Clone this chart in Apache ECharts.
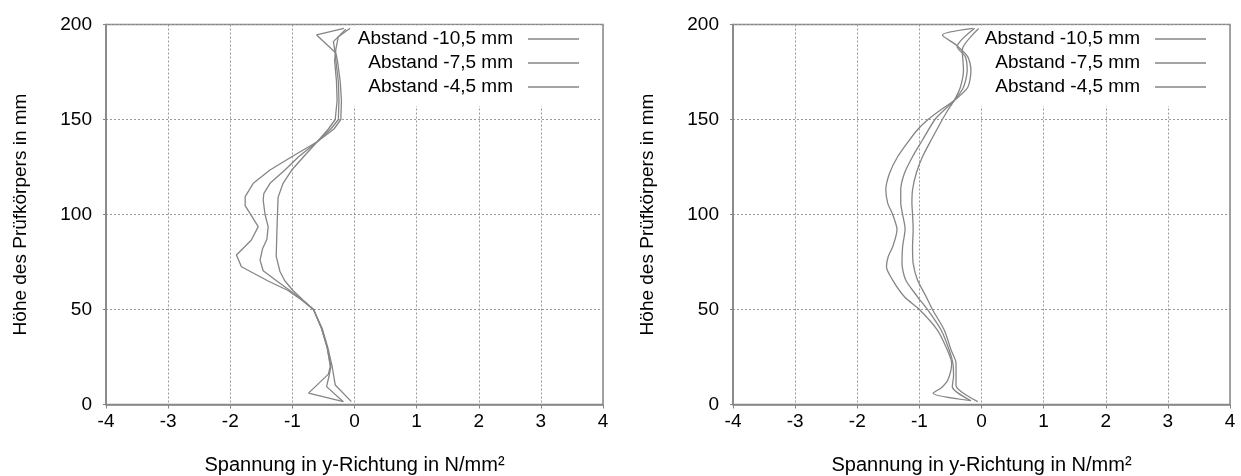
<!DOCTYPE html>
<html><head><meta charset="utf-8">
<script src="https://cdn.jsdelivr.net/npm/echarts@6/dist/echarts.min.js"></script>
<style>html,body{margin:0;padding:0;background:#fff}#c{width:1241px;height:476px}</style>
</head><body><div id="c"></div>
<script>
// ---- data (x = stress in N/mm², y = height in mm) ----
const seriesNames = ['Abstand -10,5 mm', 'Abstand -7,5 mm', 'Abstand -4,5 mm'];
const xTicks = [-4, -3, -2, -1, 0, 1, 2, 3, 4];
const yTicks = [0, 50, 100, 150, 200];

// left chart
const leftA_h = [1.5, 6, 16, 20, 30, 40, 50, 55, 60, 65, 72.5, 78.7, 86.6, 93.6, 104.7, 109.4, 116.4, 123.4, 130.4, 138.3, 145, 150, 160, 170, 180, 185, 194.5, 198];
const leftA_v = [-0.18, -0.74, -0.42, -0.39, -0.44, -0.53, -0.66, -0.85, -1.07, -1.39, -1.82, -1.90, -1.66, -1.55, -1.76, -1.76, -1.63, -1.36, -1.01, -0.60, -0.33, -0.22, -0.21, -0.23, -0.27, -0.30, -0.61, -0.17];
const leftB_h = [1.5, 9.4, 15, 20, 30, 40, 50, 55, 60, 65, 70.4, 76, 82, 87, 93.6, 100, 107.6, 111, 116.4, 123.4, 130.4, 138.3, 145, 150, 160, 170, 181, 185, 191, 197.5];
const leftB_v = [-0.18, -0.45, -0.41, -0.38, -0.44, -0.53, -0.66, -0.84, -1.04, -1.25, -1.47, -1.52, -1.48, -1.41, -1.39, -1.44, -1.47, -1.46, -1.36, -1.12, -0.90, -0.60, -0.38, -0.26, -0.25, -0.26, -0.30, -0.31, -0.34, -0.14];
const leftC_h = [1.5, 10.3, 20, 30, 40, 50, 55, 60, 65, 70, 78, 90, 100, 109, 116.4, 123.4, 130.4, 138.3, 145, 150, 160, 170, 181, 187, 193.6, 198];
const leftC_v = [-0.05, -0.31, -0.36, -0.43, -0.52, -0.66, -0.83, -0.99, -1.12, -1.20, -1.26, -1.25, -1.24, -1.23, -1.15, -1.01, -0.82, -0.60, -0.42, -0.31, -0.28, -0.29, -0.32, -0.30, -0.26, -0.07];

// right chart
const rightA_h = [2, 5.9, 9, 13, 21.7, 28.7, 39.2, 50, 56.7, 65.5, 72.5, 78, 83, 92, 100, 106, 113, 121.7, 130.4, 139.2, 145, 150, 155, 160, 167, 176, 183, 189, 194.5, 198];
const rightA_v = [-0.17, -0.78, -0.64, -0.54, -0.48, -0.55, -0.71, -1.00, -1.24, -1.43, -1.53, -1.50, -1.43, -1.36, -1.43, -1.51, -1.54, -1.48, -1.35, -1.16, -1.02, -0.86, -0.66, -0.44, -0.22, -0.17, -0.22, -0.40, -0.63, -0.14];
const rightB_h = [2, 9.4, 15, 21.7, 28.7, 39.2, 50, 56.7, 65.5, 74.3, 83, 92.4, 100, 106, 113, 121.7, 130.4, 139.2, 150, 155, 160, 167, 176, 183, 188.3, 198];
const rightB_v = [-0.17, -0.47, -0.45, -0.46, -0.52, -0.65, -0.87, -1.03, -1.22, -1.28, -1.27, -1.23, -1.27, -1.30, -1.30, -1.24, -1.11, -0.95, -0.75, -0.60, -0.44, -0.29, -0.23, -0.26, -0.39, -0.11];
const rightC_h = [1.5, 10, 21.7, 28.7, 39.2, 50, 56.7, 65.5, 74.3, 83, 92.4, 100, 106, 113, 121.7, 130.4, 139.2, 150, 155, 160, 167, 176, 186.6, 198];
const rightC_v = [-0.06, -0.41, -0.41, -0.49, -0.60, -0.79, -0.89, -1.03, -1.10, -1.11, -1.10, -1.11, -1.12, -1.11, -1.05, -0.95, -0.81, -0.63, -0.54, -0.44, -0.34, -0.29, -0.31, -0.04];

// ---- build ----
const FONT = 'Liberation Sans, Arial, sans-serif';
const FS = 19;
const GREY = '#858585';
const pairs = (v, h) => v.map((x, i) => [x, h[i]]);

function xAxisCfg(gi) {
  return {
    gridIndex: gi, type: 'value', min: xTicks[0], max: xTicks[xTicks.length - 1], interval: 1,
    name: 'Spannung in y-Richtung in N/mm²', nameLocation: 'middle', nameGap: 51,
    nameTextStyle: { fontFamily: FONT, fontSize: 20, color: '#000' },
    axisLine: { show: true, onZero: false, lineStyle: { color: GREY, width: 1.5 } },
    axisTick: { show: true, length: 4, lineStyle: { color: GREY, width: 1 } },
    axisLabel: { fontFamily: FONT, fontSize: FS, color: '#000', margin: 8 },
    splitLine: { show: true, lineStyle: { color: '#9a9a9a', type: [2, 2], width: 1 } }
  };
}
function yAxisCfg(gi) {
  return {
    gridIndex: gi, type: 'value', min: yTicks[0], max: yTicks[yTicks.length - 1], interval: 50,
    name: 'Höhe des Prüfkörpers in mm', nameLocation: 'middle', nameGap: 76, nameRotate: 90,
    nameTextStyle: { fontFamily: FONT, fontSize: FS, color: '#000' },
    axisLine: { show: true, onZero: false, lineStyle: { color: GREY, width: 1.5 } },
    axisTick: { show: true, length: 3, lineStyle: { color: GREY, width: 1 } },
    axisLabel: { fontFamily: FONT, fontSize: FS, color: '#000', margin: 14 },
    splitLine: { show: true, lineStyle: { color: '#9a9a9a', type: [2, 2], width: 1 } }
  };
}
function legendCfg(right) {
  return {
    data: seriesNames, orient: 'vertical', align: 'right', right: right, top: 25.5,
    backgroundColor: '#fff', padding: [2.5, 22, 8, 6],
    icon: 'rect', itemWidth: 51, itemHeight: 1.4, itemGap: 2,
    itemStyle: { color: GREY },
    textStyle: { fontFamily: FONT, fontSize: FS, color: '#000', lineHeight: 22, padding: [0, 10, 0, 0] },
    selectedMode: false
  };
}
function lineSeries(name, gi, data, smooth) {
  return {
    name: name, type: 'line', xAxisIndex: gi, yAxisIndex: gi, data: data,
    showSymbol: false, symbol: 'none', smooth: smooth, animation: false,
    lineStyle: { color: GREY, width: 1.3 }, itemStyle: { color: GREY }
  };
}
function gridCfg(left) {
  return { left: left, top: 24.5, width: 497, height: 380, containLabel: false, outerBoundsMode: 'none',
    show: true, borderColor: GREY, borderWidth: 1.5, backgroundColor: 'transparent' };
}

const chart = echarts.init(document.getElementById('c'), null, { renderer: 'canvas' });
chart.setOption({
  animation: false,
  backgroundColor: '#fff',
  grid: [gridCfg(106), gridCfg(733)],
  xAxis: [xAxisCfg(0), xAxisCfg(1)],
  yAxis: [yAxisCfg(0), yAxisCfg(1)],
  legend: [legendCfg(1241 - 601), legendCfg(1241 - 1228)],
  series: [
    lineSeries(seriesNames[0], 0, pairs(leftA_v, leftA_h), false),
    lineSeries(seriesNames[1], 0, pairs(leftB_v, leftB_h), false),
    lineSeries(seriesNames[2], 0, pairs(leftC_v, leftC_h), false),
    lineSeries(seriesNames[0], 1, pairs(rightA_v, rightA_h), 0.25),
    lineSeries(seriesNames[1], 1, pairs(rightB_v, rightB_h), 0.25),
    lineSeries(seriesNames[2], 1, pairs(rightC_v, rightC_h), 0.25)
  ]
});
</script></body></html>
